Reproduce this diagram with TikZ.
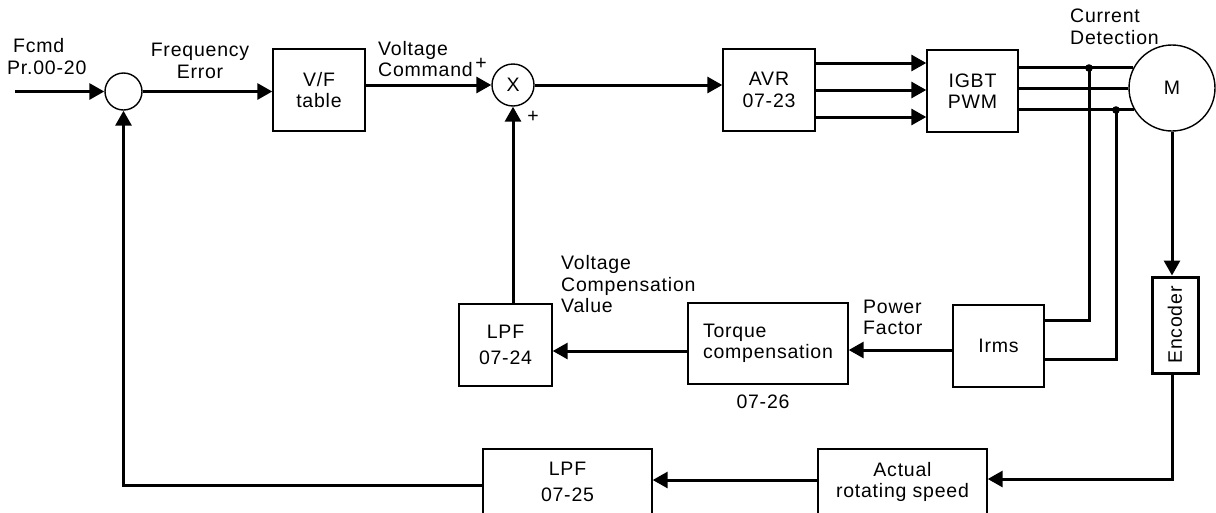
\documentclass[tikz,border=0pt]{standalone}
\usepackage{fontspec}
\setmainfont{Liberation Sans}[LetterSpace=4]
\usetikzlibrary{arrows.meta}
\begin{document}
\begin{tikzpicture}[x=1pt,y=-1pt,
  font=\fontsize{19.5}{21.5}\selectfont,
  box/.style={draw,line width=1.4pt,inner sep=0pt,align=center},
  ring/.style={draw,circle,line width=1.4pt,inner sep=0pt},
  flow/.style={line width=3pt,-{Triangle[length=15pt,width=16pt]}},
  wire/.style={line width=3pt},
  lbl/.style={inner sep=0pt,align=left}]
\useasboundingbox (0,0) rectangle (1216,512);

% blocks
\node[ring,minimum size=37pt] (sum) at (123.5,91.5) {};
\node[box,minimum width=92pt,minimum height=82pt] (vf) at (319,90) {V/F\\table};
\node[ring,minimum size=42pt] (xc) at (513,85) {X};
\node[box,minimum width=92pt,minimum height=82pt] (avr) at (769,90) {AVR\\07-23};
\node[box,minimum width=91pt,minimum height=82pt] (igbt) at (972.5,91) {IGBT\\PWM};
\node[ring,minimum size=86pt] (mot) at (1172,88) {M};
\node[box,minimum width=91pt,minimum height=82pt] (irms) at (998.5,346) {Irms};
\node[box,align=left,minimum width=160pt,minimum height=81pt] (tq) at (768,343.5) {Torque\\compensation};
\node[box,minimum width=93pt,minimum height=82pt] (lpfa) at (505.5,345) {LPF\\[4.5pt]07-24};
\node[box,line width=3pt,minimum width=46pt,minimum height=96pt] (enc) at (1175,325) {\rotatebox{90}{Encoder}};
\node[box,minimum width=169pt,minimum height=66pt] (act) at (902.5,482) {Actual\\rotating speed};
\node[box,minimum width=169pt,minimum height=66pt] (lpfb) at (567.5,482) {LPF\\[4.5pt]07-25};

% labels
\node[lbl,anchor=west] (lfc) at (7,56.5) {\hspace{6pt}Fcmd\\Pr.00-20};
\node[lbl,align=center] (lfe) at (200,61) {Frequency\\Error};
\node[lbl,anchor=west] (lvc) at (378,59) {Voltage\\Command};
\node[lbl] (p1) at (481,64) {+};
\node[lbl] (p2) at (533,117) {+};
\node[lbl,anchor=west] (lcd) at (1070,27) {Current\\Detection};
\node[lbl,anchor=west] (lvv) at (561,284.5) {Voltage\\Compensation\\Value};
\node[lbl,anchor=west] (lpw) at (863,317.5) {Power\\Factor};
\node[lbl] (l26) at (763,402) {07-26};

% connectors
\coordinate (fin) at (15,91.5);
\draw[flow] (fin) -- (sum.west);
\draw[flow] (sum.east) -- (sum.east -| vf.west);
\draw[flow] (xc.west -| vf.east) -- (xc.west);
\draw[flow] (xc.east) -- (xc.east -| avr.west);
\foreach \d in {-27,0,27}
  \draw[flow] ([yshift=\d pt]avr.east) -- ([yshift=\d pt]avr.east -| igbt.west);
\draw[wire] (igbt.east |- mot.152.3) -- (mot.152.3);
\draw[wire] (igbt.east |- mot.181.3) -- (mot.181.3);
\draw[wire] (igbt.east |- mot.210.8) -- (mot.210.8);
\coordinate (d1) at (1089,68);
\coordinate (d2) at (1116,110);
\fill (d1) circle (3.8pt);
\fill (d2) circle (3.8pt);
\draw[wire] (d1) |- ([yshift=26pt]irms.east);
\draw[wire] (d2) |- ([yshift=-13pt]irms.east);
\draw[flow] (mot.south) -- (mot.south |- enc.north);
\draw[flow] (mot.south |- enc.south) |- ([yshift=3pt]act.east);
\draw[flow] ([yshift=-4pt]irms.west) -- ([yshift=-4pt]irms.west -| tq.east);
\draw[flow] ([yshift=-7.5pt]tq.west) -- ([yshift=-7.5pt]tq.west -| lpfa.east);
\draw[flow] (xc.south |- lpfa.north) -- (xc.south);
\draw[flow] ([yshift=2pt]act.west) -- ([yshift=2pt]act.west -| lpfb.east);
\draw[flow] ([yshift=-3pt]lpfb.west) -| (sum.south);
\end{tikzpicture}
\end{document}
